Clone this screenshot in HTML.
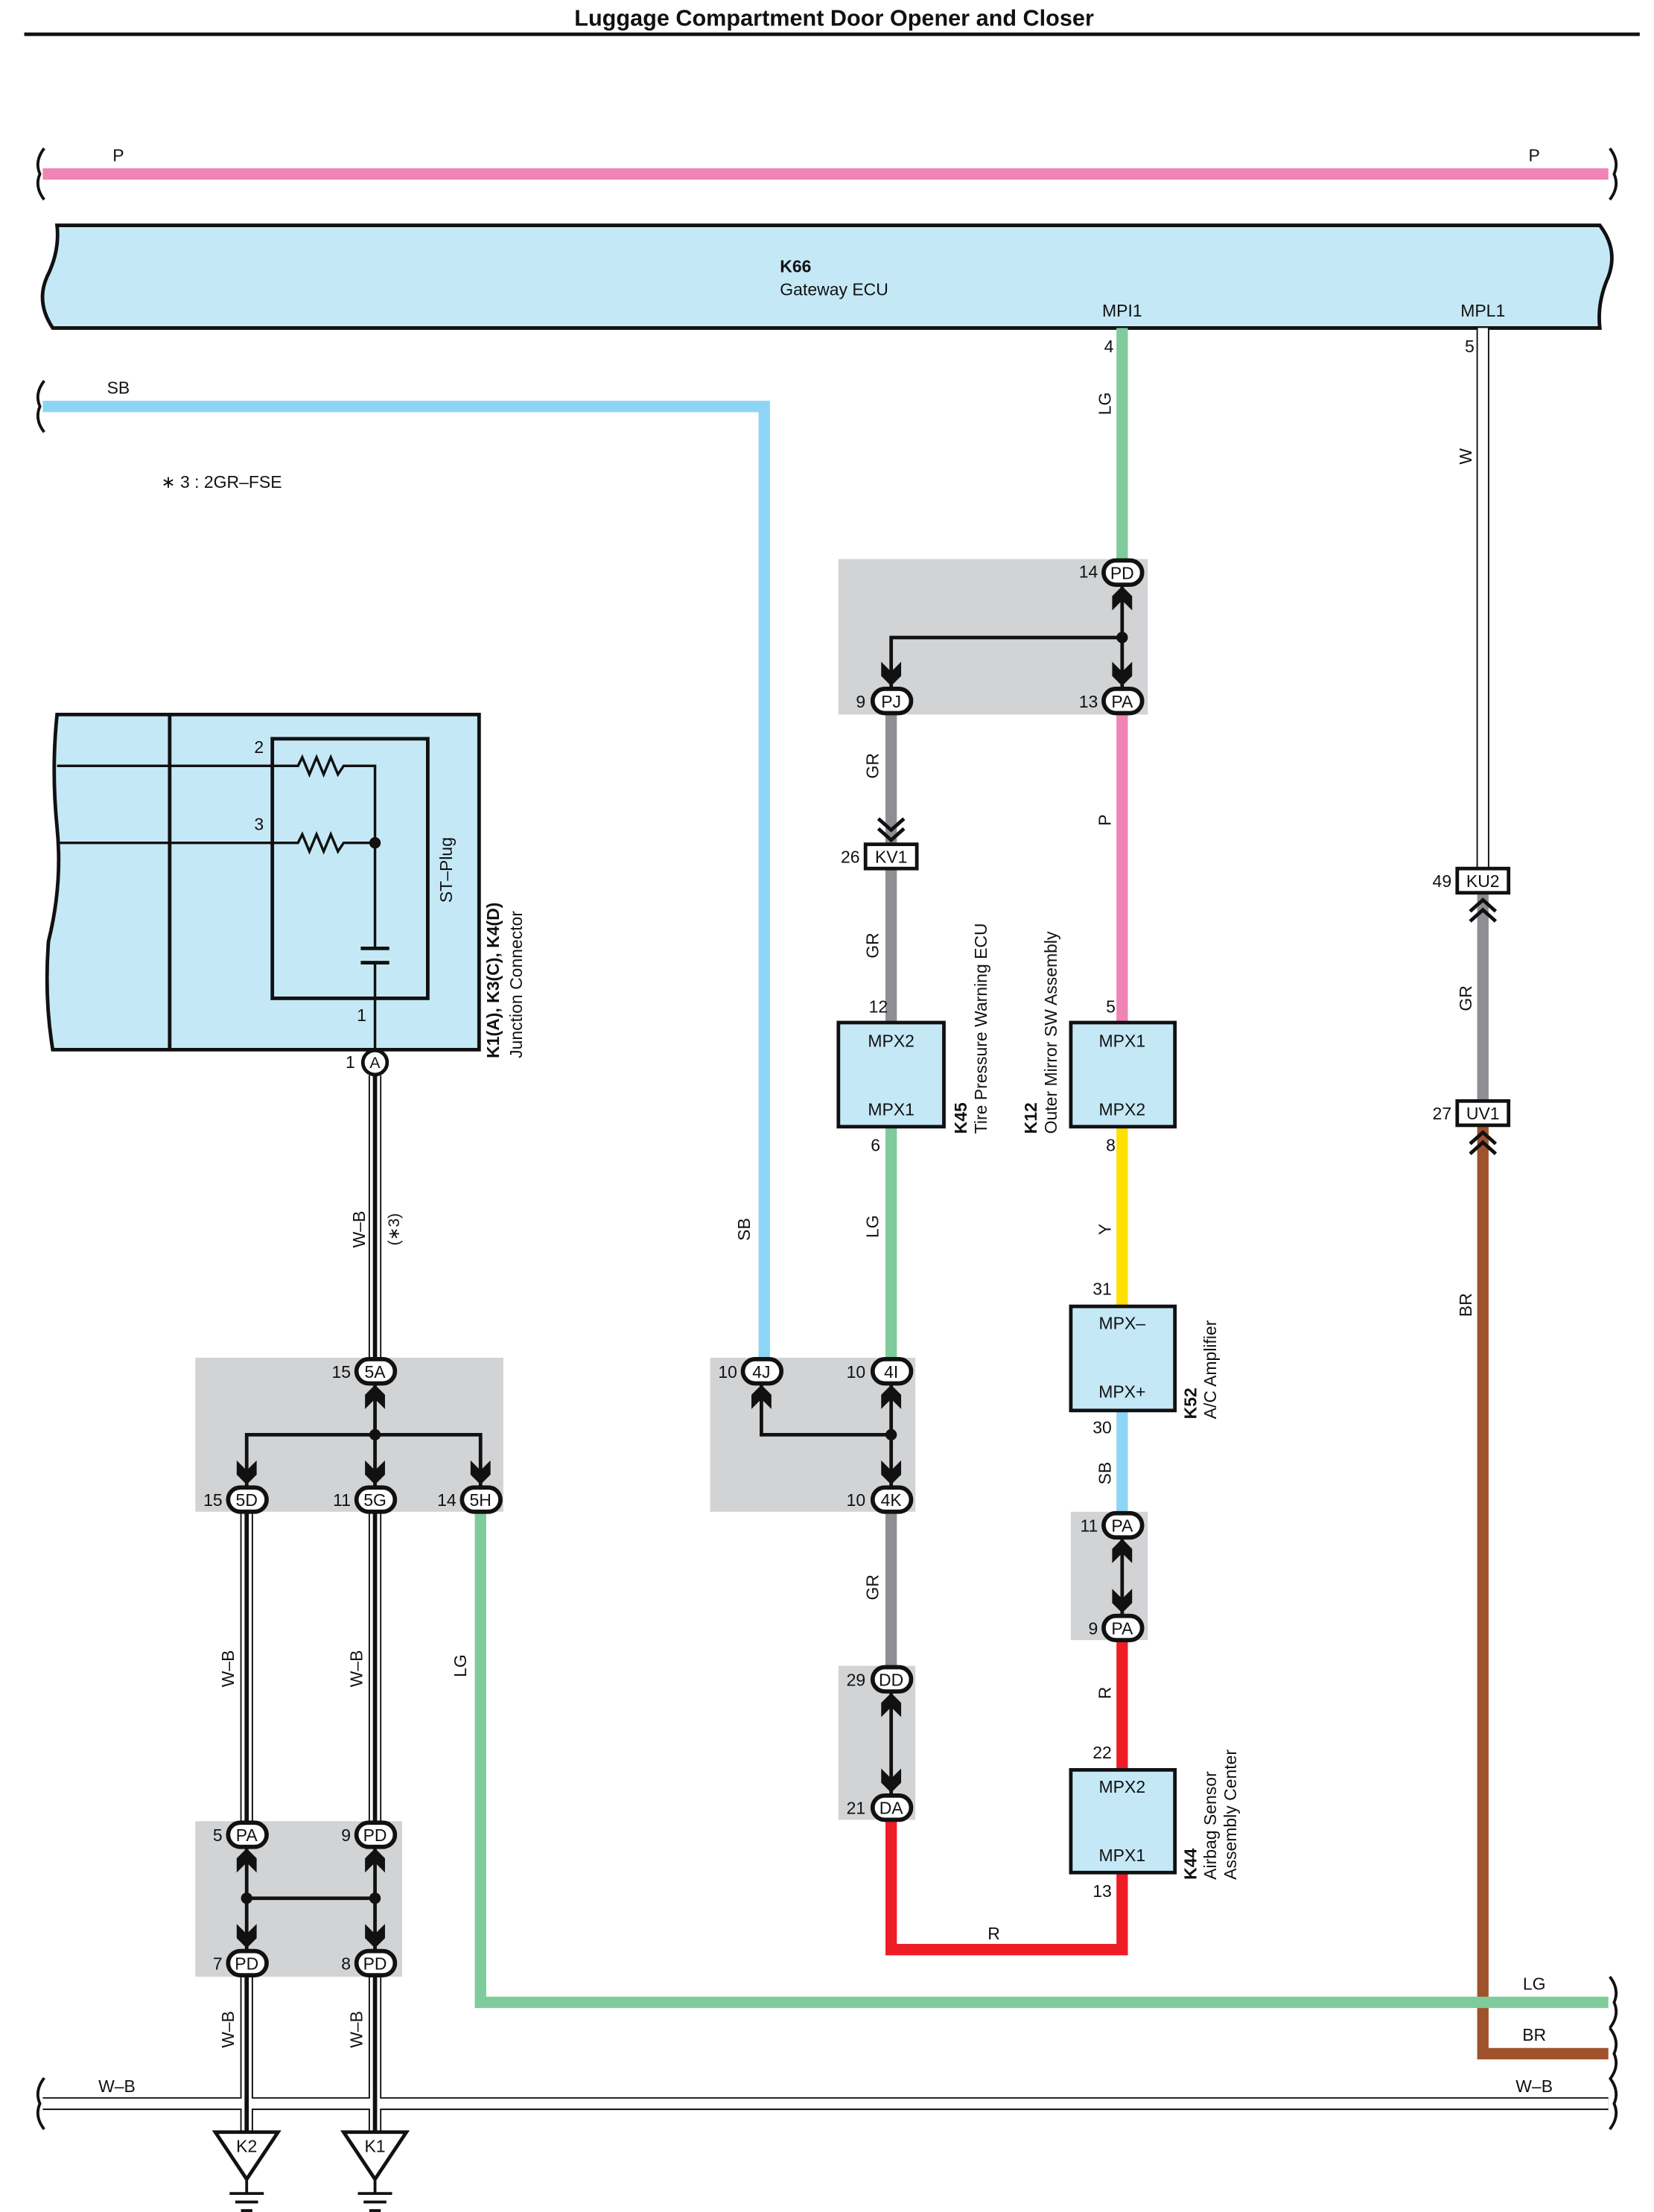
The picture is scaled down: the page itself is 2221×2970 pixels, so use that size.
<!DOCTYPE html>
<html><head><meta charset="utf-8"><style>
html,body{margin:0;padding:0;background:#fff}
svg{display:block}
text{font-family:"Liberation Sans",Arial,sans-serif;font-size:12px;fill:#111}
.c{text-anchor:middle}
.r{text-anchor:end}
.b{font-weight:bold}
</style></head><body>
<svg width="2221" height="2970" viewBox="0 0 1160 1551" preserveAspectRatio="none" xmlns="http://www.w3.org/2000/svg">
<defs>
<path id="ad" d="M-7,-15 L-7,-5 L0,2 L7,-5 L7,-15 L0,-8 Z" fill="#111"/>
<path id="au" d="M-7,15 L-7,5 L0,-2 L7,5 L7,15 L0,8 Z" fill="#111"/>
</defs>
<text x="585" y="18" class="c b" style="font-size:16px">Luggage Compartment Door Opener and Closer</text>
<line x1="17" y1="24" x2="1150" y2="24" stroke="#111" stroke-width="2.5"/>

<!-- P wire -->
<line x1="30" y1="122" x2="1128" y2="122" stroke="#f084b4" stroke-width="8"/>
<text x="83" y="113" class="c">P</text><text x="1076" y="113" class="c">P</text>

<!-- braces -->
<g fill="none" stroke="#111" stroke-width="2">
<path d="M31,104 Q24,113 28,122 Q24,131 31,140"/>
<path d="M1129,104 Q1136,113 1132,122 Q1136,131 1129,140"/>
<path d="M31,267 Q24,276 28,285 Q24,294 31,303"/>
<path d="M31,1457 Q24,1466 28,1475 Q24,1484 31,1493"/>
<path d="M1129,1386 Q1136,1395 1132,1404 Q1136,1413 1129,1422"/>
<path d="M1129,1422 Q1136,1431 1132,1440 Q1136,1449 1129,1458"/>
<path d="M1129,1457 Q1136,1466 1132,1475 Q1136,1484 1129,1493"/>
</g>

<!-- Gateway ECU -->
<path d="M40,158 L1122,158 Q1135,175 1128,194 Q1120,212 1122,230 L37,230 Q25,212 33,194 Q42,176 40,158 Z" fill="#c5e8f7" stroke="#111" stroke-width="2.5"/>
<text x="547" y="191" class="b">K66</text>
<text x="547" y="207">Gateway ECU</text>
<text x="787" y="222" class="c">MPI1</text>
<text x="1040" y="222" class="c">MPL1</text>

<!-- SB wire -->
<polyline points="30,285 536,285 536,952" fill="none" stroke="#8dd5f5" stroke-width="8"/>
<text x="83" y="276" class="c">SB</text>
<text x="113" y="342">∗ 3 : 2GR–FSE</text>
<text transform="translate(526,862) rotate(-90)" class="c">SB</text>

<!-- LG from ECU -->
<line x1="787" y1="230" x2="787" y2="392" stroke="#7fcb9b" stroke-width="8"/>
<text x="781" y="247" class="r">4</text>
<text transform="translate(779,283) rotate(-90)" class="c">LG</text>

<!-- W from ECU -->
<line x1="1040" y1="230" x2="1040" y2="608" stroke="#111" stroke-width="9"/>
<line x1="1040" y1="230" x2="1040" y2="608" stroke="#fff" stroke-width="7"/>
<text x="1034" y="247" class="r">5</text>
<text transform="translate(1032,320) rotate(-90)" class="c">W</text>

<!-- gray boxes -->
<g fill="#d2d3d5">
<rect x="588" y="392" width="217" height="109"/>
<rect x="498" y="952" width="144" height="108"/>
<rect x="588" y="1168" width="54" height="108"/>
<rect x="751" y="1060" width="54" height="90"/>
<rect x="137" y="952" width="216" height="108"/>
<rect x="137" y="1277" width="145" height="109"/>
</g>

<!-- colored wires middle -->
<line x1="625" y1="500" x2="625" y2="717" stroke="#8e8f93" stroke-width="8"/>
<line x1="787" y1="500" x2="787" y2="717" stroke="#f084b4" stroke-width="8"/>
<line x1="625" y1="790" x2="625" y2="952" stroke="#7fcb9b" stroke-width="8"/>
<line x1="787" y1="790" x2="787" y2="916" stroke="#ffe000" stroke-width="8"/>
<line x1="787" y1="989" x2="787" y2="1060" stroke="#8dd5f5" stroke-width="8"/>
<line x1="625" y1="1060" x2="625" y2="1168" stroke="#8e8f93" stroke-width="8"/>
<line x1="787" y1="1150" x2="787" y2="1241" stroke="#ee1c25" stroke-width="8"/>
<polyline points="787,1313 787,1367 625,1367 625,1276" fill="none" stroke="#ee1c25" stroke-width="8"/>
<line x1="1040" y1="626" x2="1040" y2="771" stroke="#8e8f93" stroke-width="8"/>
<polyline points="1040,790 1040,1440 1128,1440" fill="none" stroke="#a0522d" stroke-width="8"/>
<polyline points="337,1060 337,1404 1128,1404" fill="none" stroke="#7fcb9b" stroke-width="8"/>

<text transform="translate(616,537) rotate(-90)" class="c">GR</text>
<text transform="translate(616,663) rotate(-90)" class="c">GR</text>
<text transform="translate(779,575) rotate(-90)" class="c">P</text>
<text transform="translate(616,860) rotate(-90)" class="c">LG</text>
<text transform="translate(779,862) rotate(-90)" class="c">Y</text>
<text transform="translate(779,1033) rotate(-90)" class="c">SB</text>
<text transform="translate(616,1113) rotate(-90)" class="c">GR</text>
<text transform="translate(779,1187) rotate(-90)" class="c">R</text>
<text x="697" y="1360" class="c">R</text>
<text transform="translate(1032,700) rotate(-90)" class="c">GR</text>
<text transform="translate(1032,915) rotate(-90)" class="c">BR</text>
<text transform="translate(327,1168) rotate(-90)" class="c">LG</text>
<text x="1076" y="1395" class="c">LG</text>
<text x="1076" y="1431" class="c">BR</text>

<!-- W-B wires -->
<g fill="none">
<g stroke="#111" stroke-width="9">
<line x1="263" y1="754" x2="263" y2="952"/>
<line x1="173" y1="1060" x2="173" y2="1277"/>
<line x1="263" y1="1060" x2="263" y2="1277"/>
<line x1="173" y1="1386" x2="173" y2="1495"/>
<line x1="263" y1="1386" x2="263" y2="1495"/>
<line x1="30" y1="1475" x2="1128" y2="1475"/>
</g>
<g stroke="#fff" stroke-width="7">
<line x1="263" y1="754" x2="263" y2="952"/>
<line x1="173" y1="1060" x2="173" y2="1277"/>
<line x1="263" y1="1060" x2="263" y2="1277"/>
<line x1="173" y1="1386" x2="173" y2="1495"/>
<line x1="263" y1="1386" x2="263" y2="1495"/>
<line x1="30" y1="1475" x2="1128" y2="1475"/>
</g>
<g stroke="#111" stroke-width="3">
<line x1="263" y1="754" x2="263" y2="952"/>
<line x1="173" y1="1060" x2="173" y2="1277"/>
<line x1="263" y1="1060" x2="263" y2="1277"/>
<line x1="173" y1="1386" x2="173" y2="1495"/>
<line x1="263" y1="1386" x2="263" y2="1495"/>
</g>
</g>
<text transform="translate(256,862) rotate(-90)" class="c">W–B</text>
<text transform="translate(280,862) rotate(-90)" class="c" style="font-size:11px">(∗3)</text>
<text transform="translate(164,1170) rotate(-90)" class="c">W–B</text>
<text transform="translate(254,1170) rotate(-90)" class="c">W–B</text>
<text transform="translate(164,1423) rotate(-90)" class="c">W–B</text>
<text transform="translate(254,1423) rotate(-90)" class="c">W–B</text>
<text x="82" y="1467" class="c">W–B</text>
<text x="1076" y="1467" class="c">W–B</text>

<!-- internal junction lines -->
<g fill="none" stroke="#111" stroke-width="2.5">
<polyline points="787,410 787,482"/>
<polyline points="787,447 625,447 625,482"/>
<polyline points="625,970 625,1042"/>
<polyline points="625,1006 534,1006 534,970"/>
<polyline points="787,1078 787,1132"/>
<polyline points="625,1186 625,1258"/>
<polyline points="263,970 263,1042"/>
<polyline points="173,1042 173,1006 337,1006 337,1042"/>
<polyline points="173,1295 173,1367"/>
<polyline points="263,1295 263,1367"/>
<polyline points="173,1331 263,1331"/>
</g>
<g fill="#111">
<circle cx="787" cy="447" r="4"/><circle cx="625" cy="1006" r="4"/>
<circle cx="263" cy="1006" r="4"/><circle cx="173" cy="1331" r="4"/><circle cx="263" cy="1331" r="4"/>
</g>
<!-- arrowheads -->
<use href="#au" x="787" y="413"/><use href="#ad" x="787" y="479"/><use href="#ad" x="625" y="479"/>
<use href="#au" x="534" y="973"/><use href="#au" x="625" y="973"/><use href="#ad" x="625" y="1039"/>
<use href="#au" x="787" y="1081"/><use href="#ad" x="787" y="1129"/>
<use href="#au" x="625" y="1189"/><use href="#ad" x="625" y="1255"/>
<use href="#au" x="263" y="973"/><use href="#ad" x="173" y="1039"/><use href="#ad" x="263" y="1039"/><use href="#ad" x="337" y="1039"/>
<use href="#au" x="173" y="1298"/><use href="#au" x="263" y="1298"/><use href="#ad" x="173" y="1364"/><use href="#ad" x="263" y="1364"/>
<!-- in-line chevrons -->
<g fill="none" stroke="#111" stroke-width="2.5">
<path d="M616,574 L625,582 L634,574 M616,581 L625,589 L634,581"/>
<path d="M1031,639 L1040,631 L1049,639 M1031,646 L1040,638 L1049,646"/>
<path d="M1031,802 L1040,794 L1049,802 M1031,809 L1040,801 L1049,809"/>
</g>

<!-- connectors ovals -->
<g fill="#fff" stroke="#111" stroke-width="3">
<rect x="774" y="393" width="27" height="17" rx="8.5"/>
<rect x="612" y="483" width="27" height="17" rx="8.5"/>
<rect x="774" y="483" width="27" height="17" rx="8.5"/>
<rect x="521" y="953" width="27" height="17" rx="8.5"/>
<rect x="612" y="953" width="27" height="17" rx="8.5"/>
<rect x="612" y="1043" width="27" height="17" rx="8.5"/>
<rect x="774" y="1061" width="27" height="17" rx="8.5"/>
<rect x="774" y="1133" width="27" height="17" rx="8.5"/>
<rect x="612" y="1169" width="27" height="17" rx="8.5"/>
<rect x="612" y="1259" width="27" height="17" rx="8.5"/>
<rect x="250" y="953" width="27" height="17" rx="8.5"/>
<rect x="160" y="1043" width="27" height="17" rx="8.5"/>
<rect x="250" y="1043" width="27" height="17" rx="8.5"/>
<rect x="324" y="1043" width="27" height="17" rx="8.5"/>
<rect x="160" y="1278" width="27" height="17" rx="8.5"/>
<rect x="250" y="1278" width="27" height="17" rx="8.5"/>
<rect x="160" y="1368" width="27" height="17" rx="8.5"/>
<rect x="250" y="1368" width="27" height="17" rx="8.5"/>
</g>
<g class="c">
<text x="787" y="406" class="c">PD</text><text x="625" y="496" class="c">PJ</text><text x="787" y="496" class="c">PA</text>
<text x="534" y="966" class="c">4J</text><text x="625" y="966" class="c">4I</text><text x="625" y="1056" class="c">4K</text>
<text x="787" y="1074" class="c">PA</text><text x="787" y="1146" class="c">PA</text>
<text x="625" y="1182" class="c">DD</text><text x="625" y="1272" class="c">DA</text>
<text x="263" y="966" class="c">5A</text><text x="173" y="1056" class="c">5D</text><text x="263" y="1056" class="c">5G</text><text x="337" y="1056" class="c">5H</text>
<text x="173" y="1291" class="c">PA</text><text x="263" y="1291" class="c">PD</text><text x="173" y="1381" class="c">PD</text><text x="263" y="1381" class="c">PD</text>
</g>
<text x="770" y="405" class="r">14</text><text x="607" y="496" class="r">9</text><text x="770" y="496" class="r">13</text>
<text x="517" y="966" class="r">10</text><text x="607" y="966" class="r">10</text><text x="607" y="1056" class="r">10</text>
<text x="770" y="1074" class="r">11</text><text x="770" y="1146" class="r">9</text>
<text x="607" y="1182" class="r">29</text><text x="607" y="1272" class="r">21</text>
<text x="246" y="966" class="r">15</text><text x="156" y="1056" class="r">15</text><text x="246" y="1056" class="r">11</text><text x="320" y="1056" class="r">14</text>
<text x="156" y="1291" class="r">5</text><text x="246" y="1291" class="r">9</text><text x="156" y="1381" class="r">7</text><text x="246" y="1381" class="r">8</text>

<!-- rect connectors -->
<g fill="#fff" stroke="#111" stroke-width="2.5">
<rect x="607" y="592" width="36" height="17"/>
<rect x="1022" y="609" width="36" height="17"/>
<rect x="1022" y="772" width="36" height="17"/>
</g>
<text x="625" y="605" class="c">KV1</text><text x="603" y="605" class="r">26</text>
<text x="1040" y="622" class="c">KU2</text><text x="1018" y="622" class="r">49</text>
<text x="1040" y="785" class="c">UV1</text><text x="1018" y="785" class="r">27</text>

<!-- ECU boxes -->
<g fill="#c5e8f7" stroke="#111" stroke-width="2.5">
<rect x="588" y="717" width="74" height="73"/>
<rect x="751" y="717" width="73" height="73"/>
<rect x="751" y="916" width="73" height="73"/>
<rect x="751" y="1241" width="73" height="72"/>
</g>
<text x="625" y="734" class="c">MPX2</text><text x="625" y="782" class="c">MPX1</text>
<text x="787" y="734" class="c">MPX1</text><text x="787" y="782" class="c">MPX2</text>
<text x="787" y="932" class="c">MPX–</text><text x="787" y="980" class="c">MPX+</text>
<text x="787" y="1257" class="c">MPX2</text><text x="787" y="1305" class="c">MPX1</text>
<text x="616" y="710" class="c">12</text><text x="614" y="807" class="c">6</text>
<text x="779" y="710" class="c">5</text><text x="779" y="807" class="c">8</text>
<text x="773" y="908" class="c">31</text><text x="773" y="1005" class="c">30</text>
<text x="773" y="1233" class="c">22</text><text x="773" y="1330" class="c">13</text>

<text transform="translate(678,795) rotate(-90)" class="b">K45</text>
<text transform="translate(692,795) rotate(-90)">Tire Pressure Warning ECU</text>
<text transform="translate(727,795) rotate(-90)" class="b">K12</text>
<text transform="translate(741,795) rotate(-90)">Outer Mirror SW Assembly</text>
<text transform="translate(839,995) rotate(-90)" class="b">K52</text>
<text transform="translate(853,995) rotate(-90)">A/C Amplifier</text>
<text transform="translate(839,1318) rotate(-90)" class="b">K44</text>
<text transform="translate(853,1318) rotate(-90)">Airbag Sensor</text>
<text transform="translate(867,1318) rotate(-90)">Assembly Center</text>

<!-- Junction connector block -->
<path d="M40,501 L336,501 L336,736 L37,736 Q31,700 34,660 Q44,620 40,580 Q36,540 40,501 Z" fill="#c5e8f7" stroke="#111" stroke-width="2.5"/>
<line x1="119" y1="501" x2="119" y2="736" stroke="#111" stroke-width="2.5"/>
<rect x="191" y="518" width="109" height="182" fill="none" stroke="#111" stroke-width="2.5"/>
<g fill="none" stroke="#111" stroke-width="1.8">
<polyline points="40,537 209,537 212,531 217,543 222,531 227,543 232,531 237,543 241,537 263,537 263,591"/>
<polyline points="40,591 209,591 212,585 217,597 222,585 227,597 232,585 237,597 241,591 263,591 263,665"/>
<line x1="253" y1="665" x2="273" y2="665" stroke-width="2.5"/>
<line x1="253" y1="675" x2="273" y2="675" stroke-width="2.5"/>
<line x1="263" y1="675" x2="263" y2="736"/>
<line x1="263" y1="736" x2="263" y2="736"/>
</g>
<circle cx="263" cy="591" r="4" fill="#111"/>
<text x="185" y="528" class="r">2</text><text x="185" y="582" class="r">3</text><text x="257" y="716" class="r">1</text>
<text transform="translate(317,610) rotate(-90)" class="c">ST–Plug</text>
<text transform="translate(350,742) rotate(-90)" class="b">K1(A), K3(C), K4(D)</text>
<text transform="translate(366,742) rotate(-90)">Junction Connector</text>
<circle cx="263" cy="745" r="8.5" fill="#fff" stroke="#111" stroke-width="2.5"/>
<text x="263" y="749" class="c" style="font-size:11px">A</text>
<text x="249" y="749" class="r">1</text>

<!-- grounds -->
<g fill="#fff" stroke="#111" stroke-width="2.5">
<path d="M151,1495 L195,1495 L173,1528 Z"/>
<path d="M241,1495 L285,1495 L263,1528 Z"/>
</g>
<text x="173" y="1509" class="c">K2</text><text x="263" y="1509" class="c">K1</text>
<g stroke="#111" stroke-width="2">
<line x1="173" y1="1528" x2="173" y2="1538"/><line x1="161" y1="1538" x2="185" y2="1538"/><line x1="165" y1="1544" x2="181" y2="1544"/><line x1="169" y1="1550" x2="177" y2="1550"/>
<line x1="263" y1="1528" x2="263" y2="1538"/><line x1="251" y1="1538" x2="275" y2="1538"/><line x1="255" y1="1544" x2="271" y2="1544"/><line x1="259" y1="1550" x2="267" y2="1550"/>
</g>
</svg>
</body></html>
